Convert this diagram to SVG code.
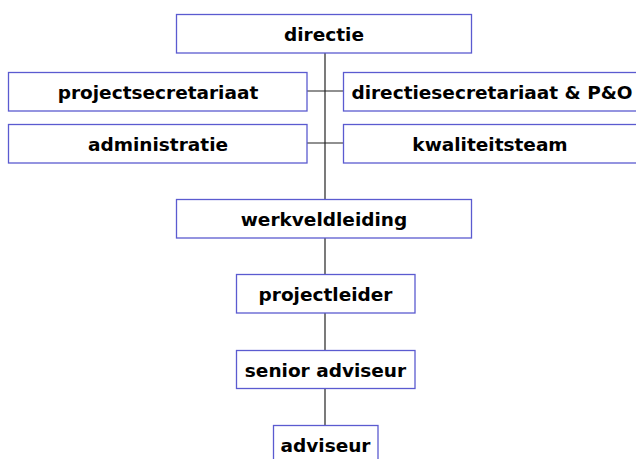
<svg xmlns="http://www.w3.org/2000/svg" width="636" height="459" viewBox="0 0 636 459">
<style>
.b{fill:#fff;stroke:#5b5bd0;stroke-width:1.3}
.t{font-family:"DejaVu Sans",Verdana,sans-serif;font-weight:bold;font-size:18.5px;fill:#000;text-anchor:middle;dominant-baseline:central}
.c{stroke:#222;stroke-width:1.2;fill:none}
</style>
<rect width="636" height="459" fill="#fff"/>
<g id="connectors">
<line class="c" x1="325" y1="53" x2="325" y2="199"/>
<line class="c" x1="307" y1="91" x2="343" y2="91"/>
<line class="c" x1="307" y1="143" x2="343" y2="143"/>
<line class="c" x1="325" y1="238" x2="325" y2="274"/>
<line class="c" x1="325" y1="313" x2="325" y2="350"/>
<line class="c" x1="325" y1="388" x2="325" y2="425"/>
</g>
<g id="directie"><rect class="b" x="176.5" y="14.5" width="295" height="38.5"/><text class="t" x="324" y="34">directie</text></g>
<g id="projectsecretariaat"><rect class="b" x="8.5" y="72.5" width="298.5" height="38.5"/><text class="t" x="158" y="92">projectsecretariaat</text></g>
<g id="administratie"><rect class="b" x="8.5" y="124.5" width="298.5" height="38.5"/><text class="t" x="158" y="144">administratie</text></g>
<g id="directiesecretariaat"><rect class="b" x="343.5" y="72.5" width="296" height="38.5"/><text class="t" x="492" y="92">directiesecretariaat &amp; P&amp;O</text></g>
<g id="kwaliteitsteam"><rect class="b" x="343.5" y="124.5" width="296" height="38.5"/><text class="t" x="490" y="144">kwaliteitsteam</text></g>
<g id="werkveldleiding"><rect class="b" x="176.5" y="199.5" width="295" height="38.5"/><text class="t" x="324" y="219">werkveldleiding</text></g>
<g id="projectleider"><rect class="b" x="236.5" y="274.5" width="178.5" height="38.5"/><text class="t" x="325.5" y="294">projectleider</text></g>
<g id="senioradviseur"><rect class="b" x="236.5" y="350.5" width="178.5" height="38"/><text class="t" x="325.5" y="370">senior adviseur</text></g>
<g id="adviseur"><rect class="b" x="273.5" y="425.5" width="104.5" height="40"/><text class="t" x="325.5" y="445">adviseur</text></g>
</svg>
